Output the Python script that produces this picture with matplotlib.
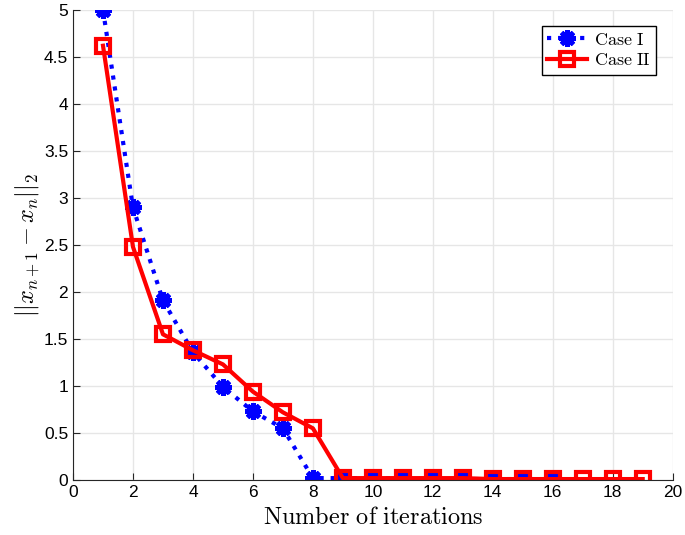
import numpy as np
import matplotlib
matplotlib.use('Agg')
from matplotlib import pyplot as plt

plt.rcParams['mathtext.fontset'] = 'cm'
plt.rcParams['font.family'] = ['Liberation Sans', 'DejaVu Sans']

# 迭代次数与误差
iter_1 = [1, 2, 3, 4, 5, 6, 7, 8, 9, 10, 11, 12, 13, 14, 15, 16]
err_1 = [5.0, 2.90, 1.91, 1.36, 0.99, 0.73, 0.55, 0.02, 0.02, 0.02, 0.015, 0.01, 0.01, 0.01, 0.01, 0.01]
iter_2 = [1, 2, 3, 4, 5, 6, 7, 8, 9, 10, 11, 12, 13, 14, 15, 16, 17, 18, 19]
err_2 = [4.62, 2.48, 1.55, 1.38, 1.23, 0.94, 0.72, 0.55, 0.02, 0.02, 0.02, 0.02, 0.02, 0.01, 0.01,
         0.01, 0.01, 0.01, 0.01]

fig = plt.figure(figsize=(6.85, 5.35), dpi=100)
ax = fig.add_axes([0.1066, 0.1028, 0.8754, 0.8785])

ax.plot(iter_1, err_1, color='blue', linestyle=':', linewidth=3, marker=(8, 2, 0),
        markersize=12, markeredgewidth=3.5, label=r'$\mathrm{Case\ I}$')
ax.plot(iter_2, err_2, color='red', linestyle='-', linewidth=3, marker='s',
        markersize=10, markerfacecolor='none', markeredgewidth=3, label=r'$\mathrm{Case\ II}$')

ax.set_xlim(0, 20)
ax.set_ylim(0, 5)
ax.set_xticks(np.arange(0, 21, 2))
ax.set_yticks(np.arange(0, 5.01, 0.5))
ax.set_yticklabels(['0', '0.5', '1', '1.5', '2', '2.5', '3', '3.5', '4', '4.5', '5'])
ax.grid(True, color='#e6e6e6', linewidth=1)
ax.set_axisbelow(True)
ax.spines['top'].set_visible(False)
ax.spines['right'].set_visible(False)
for s in ['left', 'bottom']:
    ax.spines[s].set_color('#262626')
ax.tick_params(direction='in', labelsize=12.5, colors='#262626', length=5)
ax.tick_params(axis='x', labelcolor='black')
ax.tick_params(axis='y', labelcolor='black')

ax.set_xlabel(r'$\mathrm{Number\ of\ iterations}$', fontsize=17.5, labelpad=5)
ax.set_ylabel(r'$||x_{n+1}-x_n||_2$', fontsize=17.5, labelpad=2)

leg = ax.legend(loc='upper right', fontsize=13, fancybox=False, framealpha=1,
                edgecolor='black', handlelength=2.2, borderaxespad=0.9,
                borderpad=0.3, labelspacing=0.2, handletextpad=0.4)
leg.get_frame().set_linewidth(1)

plt.savefig('out.png', dpi=100)
